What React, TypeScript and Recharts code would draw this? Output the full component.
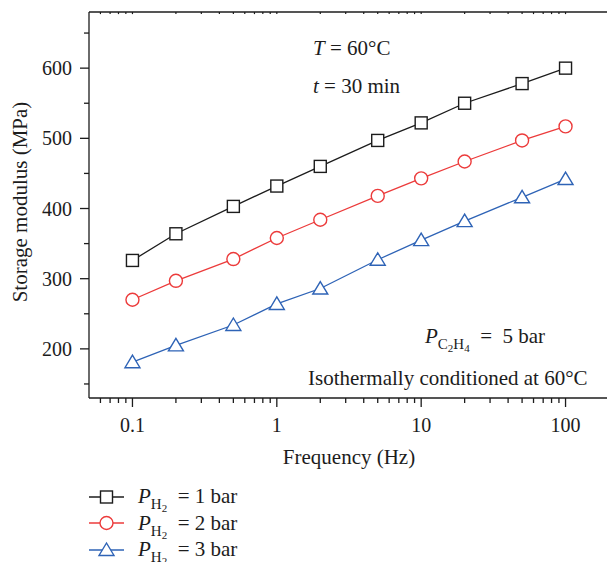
import React from 'react';
import { LineChart, Line, XAxis, YAxis, ReferenceLine } from 'recharts';

const frequencies = [0.1, 0.2, 0.5, 1, 2, 5, 10, 20, 50, 100];
const h2At1Bar = [326, 364, 403, 432, 460, 497, 522, 550, 578, 600];
const h2At2Bar = [270, 297, 328, 358, 384, 418, 443, 467, 497, 517];
const h2At3Bar = [181, 205, 234, 264, 286, 327, 355, 382, 416, 442];

const xMajorTicks = [0.1, 1, 10, 100];
const xMinorTicks = [
  0.06, 0.07, 0.08, 0.09, 0.2, 0.3, 0.4, 0.5, 0.6, 0.7, 0.8, 0.9,
  2, 3, 4, 5, 6, 7, 8, 9, 20, 30, 40, 50, 60, 70, 80, 90, 200,
];
const yMajorTicks = [200, 300, 400, 500, 600];
const yMinorTicks = [150, 250, 350, 450, 550, 650];

const X_DOMAIN = [0.05, 200];
const Y_DOMAIN = [130, 680];

const BLACK = '#1c1c1c';
const RED = '#ec3b3b';
const BLUE = '#2e63b6';
const FONT = '"Liberation Serif", "Times New Roman", serif';

const data = frequencies.map((f, i) => ({
  f,
  p1: h2At1Bar[i],
  p2: h2At2Bar[i],
  p3: h2At3Bar[i],
}));

const xTicks = [...xMajorTicks, ...xMinorTicks].sort((a, b) => a - b);
const yTicks = [...yMajorTicks, ...yMinorTicks].sort((a, b) => a - b);

const BottomTick = (props: any) => {
  const { x, y, payload } = props;
  const major = xMajorTicks.includes(payload.value);
  return (
    <g>
      <line x1={x} x2={x} y1={y} y2={y + (major ? 9 : 5)} stroke={BLACK} strokeWidth={1.3} />
      {major && (
        <text x={x} y={y + 34} textAnchor="middle" fontSize={20} fontFamily={FONT} fill={BLACK}>
          {String(payload.value)}
        </text>
      )}
    </g>
  );
};

const LeftTick = (props: any) => {
  const { x, y, payload } = props;
  const major = yMajorTicks.includes(payload.value);
  return (
    <g>
      <line x1={x - (major ? 9 : 5)} x2={x} y1={y} y2={y} stroke={BLACK} strokeWidth={1.3} />
      {major && (
        <text x={x - 17} y={y + 7} textAnchor="end" fontSize={20} fontFamily={FONT} fill={BLACK}>
          {payload.value}
        </text>
      )}
    </g>
  );
};

const SquareDot = (props: any) => {
  const { cx, cy, index } = props;
  return <rect key={index} x={cx - 6} y={cy - 6} width={12} height={12} fill="#fff" stroke={BLACK} strokeWidth={1.4} />;
};

const CircleDot = (props: any) => {
  const { cx, cy, index } = props;
  return <circle key={index} cx={cx} cy={cy} r={6.5} fill="#fff" stroke={RED} strokeWidth={1.4} />;
};

const TriangleDot = (props: any) => {
  const { cx, cy, index } = props;
  const pts = `${cx},${cy - 7} ${cx - 7.5},${cy + 5.5} ${cx + 7.5},${cy + 5.5}`;
  return <polygon key={index} points={pts} fill="#fff" stroke={BLUE} strokeWidth={1.4} />;
};

const legendItems = [
  { color: BLACK, shape: 'square', value: '1' },
  { color: RED, shape: 'circle', value: '2' },
  { color: BLUE, shape: 'triangle', value: '3' },
];

const LegendMarker = ({ color, shape }: { color: string; shape: string }) => (
  <svg width={40} height={20} style={{ display: 'block' }}>
    <line x1={1} x2={36} y1={10} y2={10} stroke={color} strokeWidth={1.3} />
    {shape === 'square' && <rect x={12.5} y={4} width={12} height={12} fill="#fff" stroke={color} strokeWidth={1.4} />}
    {shape === 'circle' && <circle cx={18.5} cy={10} r={6.5} fill="#fff" stroke={color} strokeWidth={1.4} />}
    {shape === 'triangle' && <polygon points="18.5,3 11,15.5 26,15.5" fill="#fff" stroke={color} strokeWidth={1.4} />}
  </svg>
);

const textStyle: React.CSSProperties = {
  position: 'absolute',
  fontFamily: FONT,
  fontSize: 21,
  color: BLACK,
  whiteSpace: 'nowrap',
  lineHeight: 1,
};

const sub: React.CSSProperties = { fontSize: 15, position: 'relative', top: 6 };
const subsub: React.CSSProperties = { fontSize: 11, position: 'relative', top: 3 };

export default function App() {
  return (
    <div
      style={{
        position: 'absolute',
        left: 0,
        top: 0,
        width: 607,
        height: 562,
        overflow: 'hidden',
        background: '#fff',
      }}
    >
      <LineChart width={610} height={470} data={data} margin={{ top: 12, right: 1, left: 0, bottom: 42 }}>
        <XAxis
          dataKey="f"
          type="number"
          scale="log"
          domain={X_DOMAIN}
          allowDataOverflow
          ticks={xTicks}
          interval={0}
          tick={<BottomTick />}
          tickLine={false}
          tickSize={0}
          tickMargin={0}
          height={30}
          axisLine={{ stroke: BLACK, strokeWidth: 1.3 }}
        />
        <YAxis
          type="number"
          domain={Y_DOMAIN}
          allowDataOverflow
          ticks={yTicks}
          interval={0}
          tick={<LeftTick />}
          tickLine={false}
          tickSize={0}
          tickMargin={0}
          width={89}
          axisLine={{ stroke: BLACK, strokeWidth: 1.3 }}
        />
        {/* top frame with small inward ticks */}
        <ReferenceLine y={Y_DOMAIN[1]} stroke={BLACK} strokeWidth={1.3} />
        {xTicks.map((t) => (
          <ReferenceLine
            key={t}
            segment={[
              { x: t, y: Y_DOMAIN[1] },
              { x: t, y: Y_DOMAIN[1] - 3 },
            ]}
            stroke={BLACK}
            strokeWidth={1.2}
            ifOverflow="hidden"
          />
        ))}
        <Line type="linear" dataKey="p1" stroke={BLACK} strokeWidth={1.3} dot={SquareDot} isAnimationActive={false} />
        <Line type="linear" dataKey="p2" stroke={RED} strokeWidth={1.3} dot={CircleDot} isAnimationActive={false} />
        <Line type="linear" dataKey="p3" stroke={BLUE} strokeWidth={1.3} dot={TriangleDot} isAnimationActive={false} />
      </LineChart>

      <div
        style={{
          ...textStyle,
          left: 20,
          top: 202,
          transform: 'translate(-50%, -50%) rotate(-90deg)',
        }}
      >
        Storage modulus (MPa)
      </div>
      <div style={{ ...textStyle, left: 349, top: 447, transform: 'translateX(-50%)' }}>Frequency (Hz)</div>

      <div style={{ ...textStyle, left: 313, top: 38 }}>
        <i>T</i>&nbsp;= 60°C
      </div>
      <div style={{ ...textStyle, left: 313, top: 76 }}>
        <i>t</i>&nbsp;= 30 min
      </div>
      <div style={{ ...textStyle, left: 425, top: 326 }}>
        <i>P</i>
        <span style={sub}>
          C<span style={subsub}>2</span>H<span style={subsub}>4</span>
        </span>
        &nbsp;&nbsp;=&nbsp;&nbsp;5&nbsp;bar
      </div>
      <div style={{ ...textStyle, left: 308, top: 368 }}>Isothermally conditioned at 60°C</div>

      {legendItems.map((item, i) => (
        <div
          key={item.value}
          style={{ position: 'absolute', left: 88, top: 486 + i * 26.5, display: 'flex', alignItems: 'center' }}
        >
          <LegendMarker color={item.color} shape={item.shape} />
          <div style={{ ...textStyle, position: 'relative', marginLeft: 10 }}>
            <i>P</i>
            <span style={sub}>
              H<span style={subsub}>2</span>
            </span>
            &nbsp;&nbsp;= {item.value} bar
          </div>
        </div>
      ))}
    </div>
  );
}
